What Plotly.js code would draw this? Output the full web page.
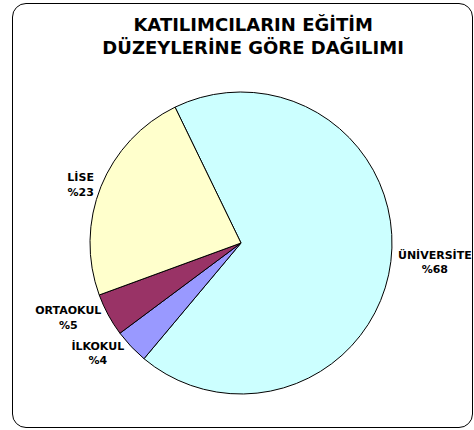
<!DOCTYPE html>
<html>
<head>
<meta charset="utf-8">
<script src="https://cdn.plot.ly/plotly-3.0.1.min.js"></script>
<style>
  html, body { margin: 0; padding: 0; background: #fff; }
  #wrap { position: relative; width: 474px; height: 430px; }
  #chart { position: absolute; left: 0; top: 0; width: 474px; height: 430px; }
  #frame { position: absolute; left: 12px; top: 3px; width: 459px; height: 423px;
           border: 1px solid #000; border-radius: 14px; pointer-events: none; }
</style>
</head>
<body>
<div id="wrap">
  <div id="chart"></div>
  <div id="frame"></div>
</div>
<script>
const categories = ["ÜNİVERSİTE", "İLKOKUL", "ORTAOKUL", "LİSE"];
const shares = [68.3, 3.7, 4.6, 23.4];
const percentLabels = ["%68", "%4", "%5", "%23"];
const colors = ["#CCFFFF", "#9999FF", "#993366", "#FFFFCC"];
const labelText = categories.map((c, i) => "<b>" + c + "<br>" + percentLabels[i] + "</b>");

const trace = {
  type: "pie",
  labels: categories,
  values: shares,
  text: labelText,
  textinfo: "text",
  texttemplate: "%{text}",
  textposition: "outside",
  sort: false,
  direction: "clockwise",
  rotation: -25.9,
  marker: { colors: colors, line: { color: "#000", width: 1 } },
  outsidetextfont: { family: "DejaVu Sans, Arial, sans-serif", size: 11, color: "#000" },
  automargin: false,
  showlegend: false,
  hoverinfo: "none"
};

const layout = {
  width: 474,
  height: 430,
  margin: { l: 90, r: 82, t: 92, b: 36 },
  paper_bgcolor: "#fff",
  plot_bgcolor: "#fff",
  showlegend: false,
  title: {
    text: "<b>KATILIMCILARIN EĞİTİM<br>DÜZEYLERİNE GÖRE DAĞILIMI</b>",
    font: { family: "DejaVu Sans, Arial, sans-serif", size: 18, color: "#000" },
    x: 0.534, xanchor: "center", xref: "container",
    y: 0.928, yanchor: "top", yref: "container"
  }
};

Plotly.newPlot("chart", [trace], layout, { staticPlot: true, displayModeBar: false });
</script>
</body>
</html>
